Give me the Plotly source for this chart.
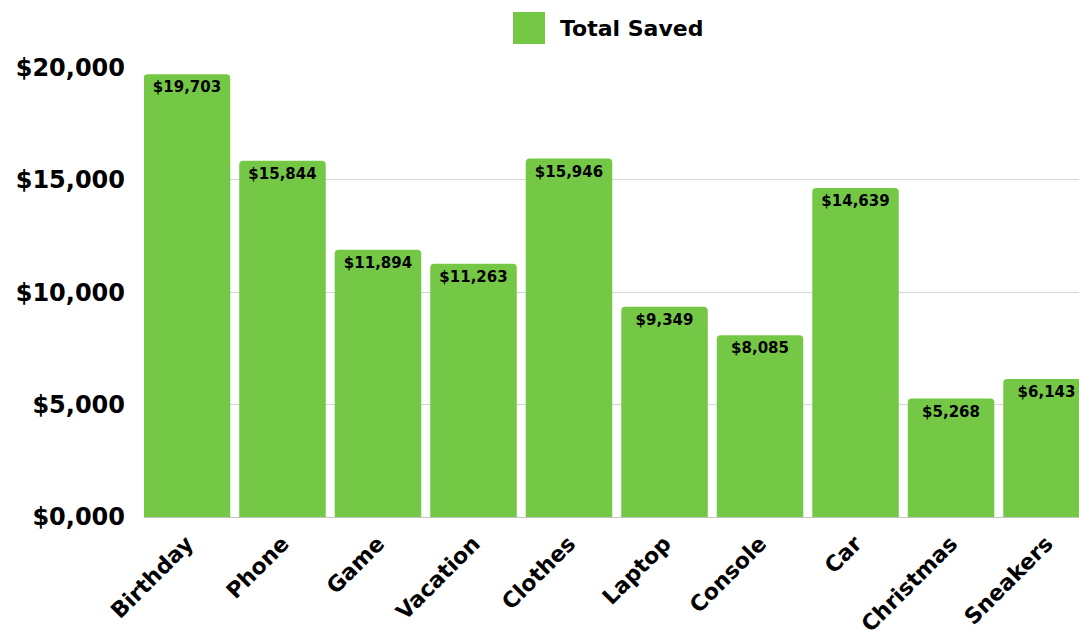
"""Savings bar chart"""

import plotly.graph_objects as go

# data
categories = ['Birthday', 'Phone', 'Game', 'Vacation', 'Clothes',
              'Laptop', 'Console', 'Car', 'Christmas', 'Sneakers']
total_saved = [19703, 15844, 11894, 11263, 15946, 9349, 8085, 14639, 5268, 6143]

y_ticks = [0, 5000, 10000, 15000, 20000]
y_tick_labels = ['$0,000', '$5,000', '$10,000', '$15,000', '$20,000']

series_name = 'Total Saved'

green = '#75C846'
font_family = 'DejaVu Sans'

fig = go.Figure(
    data=[go.Bar(
        x=categories,
        y=total_saved,
        name=series_name,
        marker=dict(color=green, cornerradius=4, line=dict(width=0)),
        texttemplate='$%{y:,}',
        textposition='inside',
        insidetextanchor='end',
        textangle=0,
        textfont=dict(family=font_family, size=15, color='black', weight='bold'),
        showlegend=False,
    )]
)

# legend drawn as a big swatch + label (plotly caps legend symbol size)
# plot area: x 144..1079 (935px), y 67..517 (450px)
px_w, px_h = 935.0, 450.0
fig.add_shape(type='rect', xref='paper', yref='paper',
              x0=(513 - 144) / px_w, x1=(545 - 144) / px_w,
              y0=1 + (67 - 44) / px_h, y1=1 + (67 - 12) / px_h,
              fillcolor=green, line=dict(width=0))
fig.add_annotation(xref='paper', yref='paper',
                   x=(558 - 144) / px_w, y=1 + (67 - 28) / px_h,
                   xanchor='left', yanchor='middle', showarrow=False,
                   text=series_name,
                   font=dict(family=font_family, size=22, color='black', weight='bold'))

fig.update_layout(
    width=1079, height=634,
    margin=dict(l=144, r=0, t=67, b=117),
    paper_bgcolor='white',
    plot_bgcolor='white',
    bargap=0.094,
    font=dict(family=font_family, color='black'),
    uniformtext=dict(minsize=8, mode='show'),
)

# last bar runs off the right edge, like in the original
fig.update_xaxes(
    range=[-0.45, 9.34],
    tickangle=-45,
    tickfont=dict(size=22, weight='bold'),
    showgrid=False,
    showline=True, linecolor='#c4c4c4', linewidth=1,
    ticks='',
    ticklabelstandoff=4,
    automargin=False,
)

fig.update_yaxes(
    range=[0, 20020],
    tickvals=y_ticks,
    ticktext=y_tick_labels,
    tickfont=dict(size=24, weight='bold'),
    showgrid=True, gridcolor='#d6d6d6', gridwidth=1,
    zeroline=False,
    ticklabelstandoff=18,
    automargin=False,
)

# drop the default page margin so the figure fills the window
fig.write_html('out.html',
               config={'displayModeBar': False},
               post_script="document.body.style.margin='0';"
                           "document.body.style.overflow='hidden';")
